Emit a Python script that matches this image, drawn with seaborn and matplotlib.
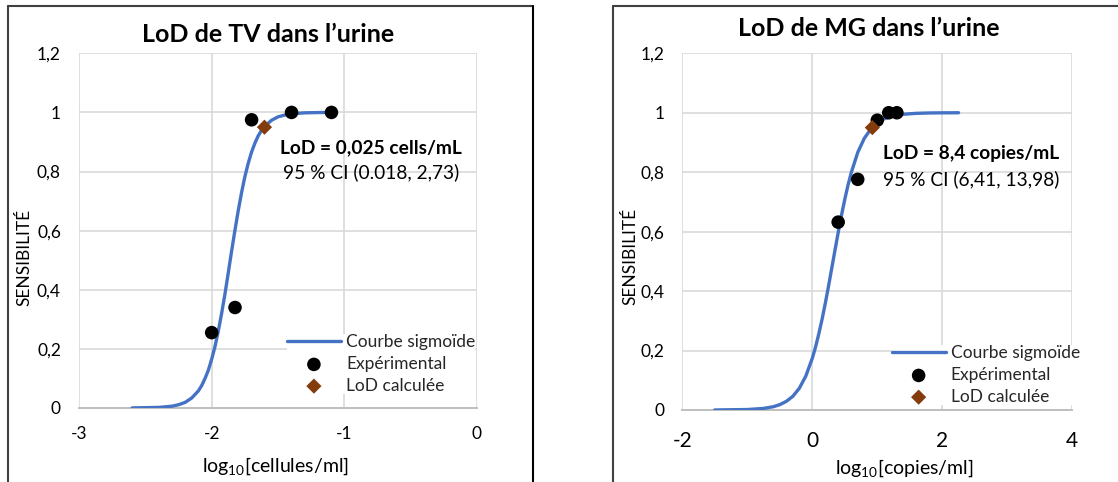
import matplotlib
matplotlib.use("Agg")
import matplotlib.pyplot as plt
from matplotlib.lines import Line2D
import seaborn as sns
import pandas as pd

# ---------------- data ----------------
tv_curve_x = [-2.6, -2.4, -2.3, -2.25, -2.2, -2.15, -2.1, -2.075, -2.05, -2.025, -2.0,
              -1.975, -1.95, -1.925, -1.9, -1.875, -1.85, -1.825, -1.8, -1.775, -1.75,
              -1.725, -1.7, -1.675, -1.65, -1.625, -1.6, -1.55, -1.5, -1.45, -1.4,
              -1.3, -1.2, -1.1]
tv_curve_y = [0.0002, 0.002, 0.006, 0.011, 0.019, 0.034, 0.058, 0.076, 0.10, 0.128, 0.165,
              0.208, 0.26, 0.32, 0.385, 0.457, 0.53, 0.60, 0.667, 0.728, 0.782,
              0.827, 0.865, 0.895, 0.92, 0.939, 0.953, 0.973, 0.985, 0.991, 0.995,
              0.9985, 0.9995, 1.0]
tv_exp_x = [-2.0, -1.824, -1.699, -1.398, -1.097]
tv_exp_y = [0.255, 0.34, 0.975, 1.0, 1.0]
tv_lod_x = [-1.602]
tv_lod_y = [0.95]

mg_curve_x = [-1.5, -1.0, -0.75, -0.6, -0.5, -0.4, -0.3, -0.2, -0.1, 0.0, 0.05, 0.1,
              0.15, 0.2, 0.25, 0.3, 0.35, 0.4, 0.45, 0.5, 0.55, 0.6, 0.7, 0.8, 0.9,
              1.0, 1.1, 1.2, 1.4, 1.6, 1.8, 2.0, 2.25]
mg_curve_y = [0.0001, 0.0016, 0.0053, 0.011, 0.018, 0.029, 0.046, 0.073, 0.114, 0.174,
              0.212, 0.256, 0.305, 0.359, 0.417, 0.478, 0.539, 0.599, 0.656, 0.709,
              0.757, 0.799, 0.867, 0.914, 0.945, 0.966, 0.979, 0.987, 0.995, 0.998,
              0.9993, 0.9997, 1.0]
mg_exp_x = [0.398, 0.699, 1.0, 1.176, 1.301]
mg_exp_y = [0.632, 0.776, 0.975, 1.0, 1.0]
mg_lod_x = [0.924]
mg_lod_y = [0.95]

titles = ["LoD de TV dans l\u2019urine", "LoD de MG dans l\u2019urine"]
xlabels = ["log$_{10}$[cellules/ml]", "log$_{10}$[copies/ml]"]
ylabel = "SENSIBILIT\u00c9"
lod_texts = ["LoD = 0,025 cells/mL", "LoD = 8,4 copies/mL"]
ci_texts = ["95 % CI (0.018, 2,73)", "95 % CI (6,41, 13,98)"]
legend_labels = ["Courbe sigmo\u00efde", "Exp\u00e9rimental", "LoD calcul\u00e9e"]
xticks_tv = [-3, -2, -1, 0]
xticks_mg = [-2, 0, 2, 4]
yticks = [0, 0.2, 0.4, 0.6, 0.8, 1.0, 1.2]
ytick_labels = ["0", "0,2", "0,4", "0,6", "0,8", "1", "1,2"]

# ---------------- style ----------------
sns.set_theme(style="white")
plt.rcParams["font.family"] = ["Lato", "DejaVu Sans"]
plt.rcParams["mathtext.default"] = "regular"

BLUE = "#4472C4"
BROWN = "#843C0C"
GRID = "#d9d9d9"
TXT = "#000000"

W, H = 1118, 482
fig = plt.figure(figsize=(W / 100, H / 100), dpi=100)
fig.patch.set_facecolor("white")


def px_axes(l, r, t, b):
    return fig.add_axes([l / W, 1 - b / H, (r - l) / W, (b - t) / H])


ax1 = px_axes(79, 477, 53.3, 408)
ax2 = px_axes(682.3, 1072.3, 53.3, 410)

panels = [
    dict(ax=ax1, cx=tv_curve_x, cy=tv_curve_y, ex=tv_exp_x, ey=tv_exp_y, lx=tv_lod_x, ly=tv_lod_y,
         xlim=(-3, 0), xticks=xticks_tv, xtick_fs=12.5, xtick_pad=13,
         title_xy=(0.475, 1.052), ylab_x=-0.136, ylab_y=0.425, xlab_xy=(0.4925, -0.1655),
         txt_ha="center", txt_x=0.733, txt_y=(0.733, 0.665), leg=(0.5226, 0.208)),
    dict(ax=ax2, cx=mg_curve_x, cy=mg_curve_y, ex=mg_exp_x, ey=mg_exp_y, lx=mg_lod_x, ly=mg_lod_y,
         xlim=(-2, 4), xticks=xticks_mg, xtick_fs=15, xtick_pad=15,
         title_xy=(0.477, 1.070), ylab_x=-0.134, ylab_y=0.430, xlab_xy=(0.569, -0.1634),
         txt_ha="left", txt_x=0.515, txt_y=(0.7197, 0.6476), leg=(0.537, 0.1815)),
]

for i, p in enumerate(panels):
    ax = p["ax"]
    ax.set_facecolor("white")
    curve = pd.DataFrame({"x": p["cx"], "y": p["cy"]})
    exp = pd.DataFrame({"x": p["ex"], "y": p["ey"]})
    lod = pd.DataFrame({"x": p["lx"], "y": p["ly"]})
    sns.lineplot(data=curve, x="x", y="y", ax=ax, color=BLUE, linewidth=2.4, sort=False,
                 label=legend_labels[0], zorder=3, solid_capstyle="round")
    sns.scatterplot(data=exp, x="x", y="y", ax=ax, color="black", s=95, edgecolor="none",
                    label=legend_labels[1], zorder=4, clip_on=False)
    sns.scatterplot(data=lod, x="x", y="y", ax=ax, color=BROWN, marker="D", s=60,
                    edgecolor="none", label=legend_labels[2], zorder=5, clip_on=False)

    ax.set_xlim(*p["xlim"])
    ax.set_ylim(0, 1.2)
    ax.set_xticks(p["xticks"])
    ax.set_xticklabels([str(v) for v in p["xticks"]])
    ax.set_yticks(yticks)
    ax.set_yticklabels(ytick_labels)
    ax.grid(True, color=GRID, linewidth=1.2)
    ax.set_axisbelow(True)
    for s in ["left", "right", "top"]:
        ax.spines[s].set_visible(False)
    ax.spines["bottom"].set_color("#bfbfbf")
    ax.spines["bottom"].set_linewidth(1.4)
    ax.tick_params(axis="y", length=0, pad=13, labelsize=12.5, labelcolor=TXT)
    ax.tick_params(axis="x", length=0, pad=p["xtick_pad"], labelsize=p["xtick_fs"], labelcolor=TXT)

    ax.text(p["title_xy"][0], p["title_xy"][1], titles[i], transform=ax.transAxes,
            ha="center", va="center", fontsize=18, fontweight="bold", color=TXT)

    ax.set_ylabel(ylabel, fontsize=12.5, color=TXT)
    ax.yaxis.label.set_va("center")
    ax.yaxis.set_label_coords(p["ylab_x"], p["ylab_y"])
    ax.set_xlabel(xlabels[i], fontsize=14, color=TXT)
    ax.xaxis.label.set_va("center")
    ax.xaxis.set_label_coords(*p["xlab_xy"])

    ax.text(p["txt_x"], p["txt_y"][0], lod_texts[i], transform=ax.transAxes,
            ha=p["txt_ha"], va="center", fontsize=13.8, fontweight="bold", color=TXT)
    ax.text(p["txt_x"], p["txt_y"][1], ci_texts[i], transform=ax.transAxes,
            ha=p["txt_ha"], va="center", fontsize=13.8, color=TXT)

    leg = ax.legend(loc="upper left", bbox_to_anchor=p["leg"], frameon=True, fancybox=False,
                    framealpha=1, edgecolor="white", facecolor="white", fontsize=12.5,
                    handlelength=3.1, handletextpad=0.3, labelspacing=0.33,
                    borderpad=0.0, borderaxespad=0.0, scatterpoints=1)
    leg.get_frame().set_linewidth(0)
    leg.set_zorder(6)

# chart frames
FRAME = "#404040"
def fline(x0, y0, x1, y1, c=FRAME):
    fig.add_artist(Line2D([x0 / W, x1 / W], [1 - y0 / H, 1 - y1 / H], color=c, lw=1.5,
                          transform=fig.transFigure))

fline(8, 6, 8, 482)
fline(8, 6, 533, 6)
fline(533, 6, 533, 482, c="#000000")
fline(613, 6, 613, 482)
fline(613, 6, 1118, 6)

fig.savefig("out.png", dpi=100, facecolor="white")
